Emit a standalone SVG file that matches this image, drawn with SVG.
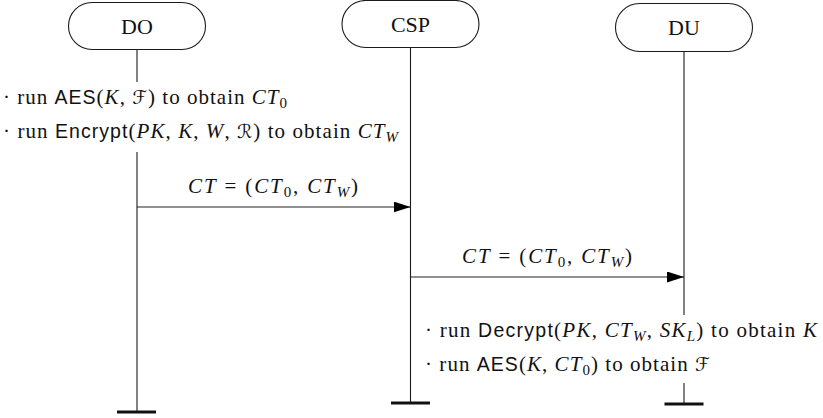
<svg xmlns="http://www.w3.org/2000/svg" width="823" height="418" viewBox="0 0 823 418">
  <defs>
    <style>
      .box { fill: #ffffff; stroke: #1a1a1a; stroke-width: 1.1; }
      .life { stroke: #1a1a1a; stroke-width: 1.1; fill: none; }
      .end { stroke: #111111; stroke-width: 3; }
      .msg { stroke: #222222; stroke-width: 1.1; marker-end: url(#head); }
      text { font-family: "Liberation Serif", "DejaVu Serif", serif; font-size: 21px; fill: #111111; }
      .name { text-anchor: middle; font-size: 22px; }
      .m { font-style: italic; }
      .sf { font-family: "Liberation Sans", "DejaVu Sans", sans-serif; font-size: 19.5px; }
      .cal { font-family: "DejaVu Sans", "DejaVu Serif", sans-serif; font-style: italic; font-size: 19px; }
      .sub { font-size: 15px; }
    </style>
    <marker id="head" markerUnits="userSpaceOnUse" markerWidth="17" markerHeight="11" refX="17" refY="5.5" orient="auto">
      <path d="M0,0 L17,5.5 L0,11 Z" fill="#000000"/>
    </marker>
  </defs>

  <!-- data owner -->
  <g id="node-DO">
    <rect class="box" x="68.5" y="2.5" width="137" height="47" rx="23.5" ry="23.5"/>
    <text class="name" x="137" y="33.5">DO</text>
    <line class="life" x1="137" y1="49.5" x2="137" y2="82"/>
    <line class="life" x1="137" y1="152" x2="137" y2="412"/>
    <line class="end" x1="117" y1="412" x2="156" y2="412"/>
    <text x="3" y="104" textLength="284" lengthAdjust="spacing">· run <tspan class="sf">AES</tspan>(<tspan class="m">K</tspan>, <tspan class="cal">ℱ</tspan>) to obtain <tspan class="m">CT</tspan><tspan class="sub" dy="4">0</tspan></text>
    <text x="3" y="138" textLength="395" lengthAdjust="spacing">· run <tspan class="sf">Encrypt</tspan>(<tspan class="m">PK</tspan>, <tspan class="m">K</tspan>, <tspan class="m">W</tspan>, <tspan class="cal">ℛ</tspan>) to obtain <tspan class="m">CT</tspan><tspan class="sub m" dy="4">W</tspan></text>
  </g>

  <!-- cloud service provider -->
  <g id="node-CSP">
    <rect class="box" x="342" y="0.5" width="137" height="47" rx="23.5" ry="23.5"/>
    <text class="name" x="410.5" y="31.5">CSP</text>
    <line class="life" x1="410.5" y1="47.5" x2="410.5" y2="403"/>
    <line class="end" x1="391" y1="403" x2="430" y2="403"/>
  </g>

  <!-- data user -->
  <g id="node-DU">
    <rect class="box" x="615.5" y="3.5" width="137" height="48" rx="24" ry="24"/>
    <text class="name" x="684" y="35">DU</text>
    <line class="life" x1="684" y1="51.5" x2="684" y2="315"/>
    <line class="life" x1="684" y1="383" x2="684" y2="404"/>
    <line class="end" x1="664.5" y1="404" x2="703.5" y2="404"/>
    <text x="425" y="337" textLength="392" lengthAdjust="spacing">· run <tspan class="sf">Decrypt</tspan>(<tspan class="m">PK</tspan>, <tspan class="m">CT</tspan><tspan class="sub m" dy="4">W</tspan><tspan dy="-4">, </tspan><tspan class="m">SK</tspan><tspan class="sub m" dy="4">L</tspan><tspan dy="-4">) to obtain </tspan><tspan class="m">K</tspan></text>
    <text x="425" y="371" textLength="285" lengthAdjust="spacing">· run <tspan class="sf">AES</tspan>(<tspan class="m">K</tspan>, <tspan class="m">CT</tspan><tspan class="sub" dy="4">0</tspan><tspan dy="-4">) to obtain </tspan><tspan class="cal">ℱ</tspan></text>
  </g>

  <!-- messages -->
  <g id="connectors">
    <line class="msg" x1="137" y1="207" x2="410.5" y2="207"/>
    <text x="188" y="193" textLength="170" lengthAdjust="spacing"><tspan class="m">CT</tspan> = (<tspan class="m">CT</tspan><tspan class="sub" dy="4">0</tspan><tspan dy="-4">, </tspan><tspan class="m">CT</tspan><tspan class="sub m" dy="4">W</tspan><tspan dy="-4">)</tspan></text>
    <line class="msg" x1="410.5" y1="277" x2="684" y2="277"/>
    <text x="462" y="263" textLength="170" lengthAdjust="spacing"><tspan class="m">CT</tspan> = (<tspan class="m">CT</tspan><tspan class="sub" dy="4">0</tspan><tspan dy="-4">, </tspan><tspan class="m">CT</tspan><tspan class="sub m" dy="4">W</tspan><tspan dy="-4">)</tspan></text>
  </g>
</svg>
